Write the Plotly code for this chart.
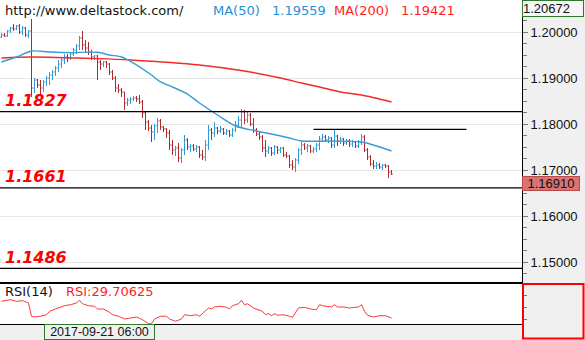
import plotly.graph_objects as go

# ---- EUR/USD 4-hour bars, oldest first ----
bar_open = [1.19892, 1.19935, 1.19914, 1.20022, 1.20087, 1.20065, 1.20131, 1.20001, 1.20087, 1.19935,
            1.20022, 1.18783, 1.18957, 1.18848, 1.18783, 1.18914, 1.19000, 1.19065, 1.19131, 1.19217,
            1.19304, 1.19391, 1.19457, 1.19435, 1.19522, 1.19609, 1.19696, 1.19870, 1.19717, 1.19652,
            1.19566, 1.19457, 1.19479, 1.19348, 1.19304, 1.19348, 1.19304, 1.19131, 1.19000, 1.18783,
            1.18739, 1.18696, 1.18457, 1.18522, 1.18543, 1.18565, 1.18543, 1.18479, 1.18240, 1.18044,
            1.17913, 1.17827, 1.17957, 1.18065, 1.17935, 1.17892, 1.17805, 1.17544, 1.17435, 1.17478,
            1.17261, 1.17435, 1.17652, 1.17500, 1.17522, 1.17457, 1.17500, 1.17326, 1.17283, 1.17544,
            1.17870, 1.17805, 1.17913, 1.17848, 1.17892, 1.17805, 1.17848, 1.17761, 1.17870, 1.17978,
            1.18087, 1.18261, 1.18087, 1.18196, 1.18000, 1.17870, 1.17783, 1.17718, 1.17478, 1.17413,
            1.17478, 1.17370, 1.17500, 1.17435, 1.17478, 1.17326, 1.17305, 1.17109, 1.17065, 1.17217,
            1.17435, 1.17544, 1.17478, 1.17522, 1.17413, 1.17457, 1.17544, 1.17674, 1.17718, 1.17652,
            1.17696, 1.17544, 1.17739, 1.17630, 1.17674, 1.17587, 1.17630, 1.17565, 1.17609, 1.17522,
            1.17609, 1.17718, 1.17435, 1.17283, 1.17130, 1.17087, 1.17109, 1.17065, 1.17109, 1.17087,
            1.16957]
bar_high = [1.19979, 1.19979, 1.20044, 1.20109, 1.20174, 1.20152, 1.20174, 1.20131, 1.20109, 1.20044,
            1.20283, 1.19000, 1.18978, 1.18957, 1.18957, 1.19044, 1.19131, 1.19174, 1.19261, 1.19391,
            1.19435, 1.19522, 1.19522, 1.19566, 1.19652, 1.19739, 1.19914, 1.20022, 1.19826, 1.19783,
            1.19609, 1.19500, 1.19500, 1.19391, 1.19369, 1.19369, 1.19326, 1.19174, 1.19044, 1.18870,
            1.18783, 1.18696, 1.18565, 1.18587, 1.18609, 1.18609, 1.18630, 1.18522, 1.18261, 1.18087,
            1.17978, 1.18000, 1.18131, 1.18109, 1.17957, 1.17913, 1.17870, 1.17652, 1.17522, 1.17587,
            1.17478, 1.17761, 1.17696, 1.17565, 1.17565, 1.17544, 1.17522, 1.17435, 1.17652, 1.17978,
            1.17913, 1.18044, 1.17935, 1.17957, 1.17913, 1.17892, 1.17870, 1.17913, 1.18065, 1.18174,
            1.18327, 1.18305, 1.18261, 1.18240, 1.18131, 1.17913, 1.17827, 1.17761, 1.17652, 1.17522,
            1.17500, 1.17544, 1.17522, 1.17500, 1.17500, 1.17392, 1.17326, 1.17217, 1.17261, 1.17478,
            1.17609, 1.17587, 1.17565, 1.17544, 1.17500, 1.17587, 1.17739, 1.17783, 1.17761, 1.17739,
            1.17718, 1.17892, 1.17761, 1.17718, 1.17696, 1.17674, 1.17674, 1.17652, 1.17630, 1.17652,
            1.17783, 1.17761, 1.17478, 1.17326, 1.17217, 1.17174, 1.17152, 1.17130, 1.17130, 1.17109,
            1.17000]
bar_low = [1.19870, 1.19892, 1.19892, 1.19979, 1.20022, 1.20044, 1.19957, 1.19935, 1.19892, 1.19870,
           1.18587, 1.18674, 1.18783, 1.18630, 1.18696, 1.18827, 1.18848, 1.18957, 1.19044, 1.19131,
           1.19217, 1.19304, 1.19348, 1.19391, 1.19479, 1.19522, 1.19609, 1.19609, 1.19566, 1.19500,
           1.19391, 1.19391, 1.18957, 1.19174, 1.19239, 1.19217, 1.19065, 1.18957, 1.18696, 1.18674,
           1.18587, 1.18305, 1.18392, 1.18435, 1.18500, 1.18479, 1.18435, 1.18131, 1.17870, 1.17848,
           1.17609, 1.17652, 1.17805, 1.17870, 1.17827, 1.17696, 1.17435, 1.17326, 1.17305, 1.17174,
           1.17152, 1.17326, 1.17435, 1.17392, 1.17413, 1.17392, 1.17261, 1.17217, 1.17196, 1.17435,
           1.17652, 1.17718, 1.17783, 1.17805, 1.17761, 1.17761, 1.17718, 1.17718, 1.17827, 1.17913,
           1.17935, 1.18000, 1.18022, 1.17957, 1.17805, 1.17739, 1.17652, 1.17392, 1.17283, 1.17348,
           1.17305, 1.17326, 1.17348, 1.17370, 1.17283, 1.17261, 1.17044, 1.17000, 1.16957, 1.17130,
           1.17326, 1.17435, 1.17392, 1.17370, 1.17370, 1.17392, 1.17435, 1.17609, 1.17609, 1.17587,
           1.17478, 1.17478, 1.17522, 1.17565, 1.17522, 1.17544, 1.17500, 1.17500, 1.17478, 1.17478,
           1.17544, 1.17392, 1.17217, 1.17087, 1.17022, 1.17022, 1.17022, 1.17000, 1.17044, 1.16826,
           1.16892]
bar_close = [1.19935, 1.19914, 1.20022, 1.20087, 1.20065, 1.20131, 1.20001, 1.20087, 1.19935, 1.20022,
             1.18783, 1.18957, 1.18848, 1.18783, 1.18914, 1.19000, 1.19065, 1.19131, 1.19217, 1.19304,
             1.19391, 1.19457, 1.19435, 1.19522, 1.19609, 1.19696, 1.19870, 1.19717, 1.19652, 1.19566,
             1.19457, 1.19479, 1.19348, 1.19304, 1.19348, 1.19304, 1.19131, 1.19000, 1.18783, 1.18739,
             1.18696, 1.18457, 1.18522, 1.18543, 1.18565, 1.18543, 1.18479, 1.18240, 1.18044, 1.17913,
             1.17827, 1.17957, 1.18065, 1.17935, 1.17892, 1.17805, 1.17544, 1.17435, 1.17478, 1.17261,
             1.17435, 1.17652, 1.17500, 1.17522, 1.17457, 1.17500, 1.17326, 1.17283, 1.17544, 1.17870,
             1.17805, 1.17913, 1.17848, 1.17892, 1.17805, 1.17848, 1.17761, 1.17870, 1.17978, 1.18087,
             1.18261, 1.18087, 1.18196, 1.18000, 1.17870, 1.17783, 1.17718, 1.17478, 1.17413, 1.17478,
             1.17370, 1.17500, 1.17435, 1.17478, 1.17326, 1.17305, 1.17109, 1.17065, 1.17217, 1.17435,
             1.17544, 1.17478, 1.17522, 1.17413, 1.17457, 1.17544, 1.17674, 1.17718, 1.17652, 1.17696,
             1.17544, 1.17739, 1.17630, 1.17674, 1.17587, 1.17630, 1.17565, 1.17609, 1.17522, 1.17609,
             1.17718, 1.17435, 1.17283, 1.17130, 1.17087, 1.17109, 1.17065, 1.17109, 1.17087, 1.16957,
             1.16910]
bar_idx = list(range(len(bar_close)))

# ---- moving averages (bar index, value) ----
ma50_idx = [0, 5, 10, 16, 23, 32, 36, 40, 44, 50, 53, 57, 62, 66, 72, 78, 85, 90, 96, 100, 110, 120, 125, 130]
ma50_val = [1.19348, 1.19457, 1.19587, 1.19566, 1.19552, 1.19559, 1.19500, 1.19457, 1.19326, 1.19065,
            1.18914, 1.18805, 1.18652, 1.18457, 1.18196, 1.17957, 1.17848, 1.17783, 1.17696, 1.17630,
            1.17630, 1.17609, 1.17522, 1.17413]
ma200_idx = [0, 10, 32, 43, 66, 81, 93, 100, 106, 113, 120, 130]
ma200_val = [1.19435, 1.19457, 1.19421, 1.19391, 1.19283, 1.19152, 1.19000, 1.18891, 1.18805, 1.18696,
             1.18630, 1.18479]

# ---- RSI(14) ----
rsi_idx = [0, 3, 5, 7, 9, 10, 11, 13, 15, 16, 18, 20, 21, 23, 25, 26, 27, 29, 31, 32,
           34, 36, 37, 39, 41, 43, 45, 47, 49, 50, 51, 53, 55, 56, 58, 60, 61, 63, 65, 66,
           68, 69, 70, 71, 73, 75, 76, 77, 79, 80, 81, 82, 84, 87, 88, 89, 90, 91, 92, 94,
           96, 97, 99, 101, 103, 105, 106, 107, 110, 111, 112, 114, 116, 119, 120, 121, 122, 124, 126, 128,
           130]
rsi_val = [56.7, 59.3, 56.7, 57.7, 54.0, 32.5, 31.3, 32.5, 35.0, 40.5, 44.3, 47.5, 49.6, 51.2, 54.0, 58.3, 52.8, 49.6, 48.6, 44.3,
           44.3, 38.9, 35.0, 32.5, 28.1, 29.7, 31.3, 27.0, 20.5, 20.5, 28.1, 32.5, 32.5, 28.1, 24.4, 28.1, 35.0, 33.4, 35.0, 32.5,
           40.5, 45.9, 44.3, 47.5, 48.6, 47.0, 44.3, 49.6, 52.8, 58.3, 51.2, 52.8, 45.9, 40.5, 35.0, 36.7, 33.4, 36.7, 34.1, 35.0,
           32.5, 30.8, 45.9, 47.0, 44.3, 43.1, 51.2, 49.6, 47.5, 51.2, 47.5, 47.5, 45.9, 47.5, 51.2, 40.5, 34.1, 31.3, 33.4, 33.4,
           29.70625]

# ---- support / resistance levels ----
level_values = [1.1827, 1.1661, 1.1486]
level_labels = ["1.1827", "1.1661", "1.1486"]
resist_value = 1.17885
resist_from, resist_to = 104, 155

# ---- crosshair readout ----
cross_idx = 32
cross_time = "2017-09-21 06:00"
axis_top_value = 1.20672

W, H = 585, 340
PLOT_R = 522          # right edge of the chart panes (px)
MAIN_B = 283          # bottom of the price pane (px)
RSI_B = 324           # bottom of the RSI pane (px)

BLUE = "#2f9ad8"
BAR_RED = "#b0282c"
MA_RED = "#f42a2a"
TXT_RED = "#ff1e1e"
GREEN = "#2d7a2d"


def px_x(px):
    return px / W


def px_y(py):
    return 1 - py / H


ma50_at_cross = ma50_val[ma50_idx.index(cross_idx)]
ma200_at_cross = ma200_val[ma200_idx.index(cross_idx)]

fig = go.Figure()

fig.add_trace(go.Ohlc(
    x=bar_idx, open=bar_open, high=bar_high, low=bar_low, close=bar_close,
    increasing=dict(line=dict(color=BLUE, width=1)),
    decreasing=dict(line=dict(color=BAR_RED, width=1)),
    tickwidth=0.4, xaxis="x", yaxis="y", hoverinfo="skip",
))
fig.add_trace(go.Scatter(
    x=ma200_idx, y=ma200_val, mode="lines", xaxis="x", yaxis="y",
    line=dict(color=MA_RED, width=1.4, shape="spline", smoothing=0.8), hoverinfo="skip",
))
fig.add_trace(go.Scatter(
    x=ma50_idx, y=ma50_val, mode="lines", xaxis="x", yaxis="y",
    line=dict(color="#3c9ad6", width=1.4, shape="spline", smoothing=0.8), hoverinfo="skip",
))
fig.add_trace(go.Scatter(
    x=rsi_idx, y=rsi_val, mode="lines", xaxis="x2", yaxis="y2",
    line=dict(color="#ff3636", width=1), hoverinfo="skip",
))

# 3 px per bar; half-bar offset keeps the bar stems on pixel centres
x_range = [-0.5, 173.5]
frame = dict(showline=True, linecolor="black", linewidth=1, mirror=True, zeroline=False)

shapes = []
for v in level_values:
    shapes.append(dict(type="line", xref="x domain", x0=0, x1=1, yref="y", y0=v, y1=v,
                       line=dict(color="black", width=1.2)))
shapes.append(dict(type="line", xref="x", x0=resist_from, x1=resist_to, yref="y",
                   y0=resist_value, y1=resist_value, line=dict(color="black", width=1.2)))
# indicator-scale frame on the right of the RSI pane
shapes.append(dict(type="rect", xref="paper", yref="paper",
                   x0=px_x(PLOT_R + 1), x1=px_x(W - 1.5), y0=px_y(H - 1.5), y1=px_y(MAIN_B + 1),
                   line=dict(color="#ff0000", width=2), fillcolor="rgba(0,0,0,0)"))

ann = []
head_font = dict(family="DejaVu Sans", size=13)
head_y = px_y(11)
ann.append(dict(text="http://www.deltastock.com/", x=px_x(3), y=head_y,
                font=dict(head_font, color="#111111")))
ann.append(dict(text="MA(50)", x=px_x(211), y=head_y, font=dict(head_font, color="#1f8fd6")))
ann.append(dict(text=f"{ma50_at_cross:.5f}", x=px_x(270), y=head_y, font=dict(head_font, color="#1f8fd6")))
ann.append(dict(text="MA(200)", x=px_x(332), y=head_y, font=dict(head_font, color=TXT_RED)))
ann.append(dict(text=f"{ma200_at_cross:.5f}", x=px_x(399), y=head_y, font=dict(head_font, color=TXT_RED)))

rsi_y = px_y(291)
ann.append(dict(text="RSI(14)", x=px_x(3), y=rsi_y, font=dict(head_font, color="#111111")))
ann.append(dict(text=f"RSI:{rsi_val[-1]:.5f}", x=px_x(64), y=rsi_y, font=dict(head_font, color=TXT_RED)))

for a in ann:
    a.update(xref="paper", yref="paper", xanchor="left", yanchor="middle", showarrow=False)

for v, lab in zip(level_values, level_labels):
    ann.append(dict(text=f"<b><i>{lab}</i></b>", xref="paper", x=px_x(3), yref="y", y=v,
                    xanchor="left", yanchor="middle", yshift=11, showarrow=False,
                    font=dict(family="DejaVu Sans", size=16, color="#ff0000")))

scale_font = dict(family="Liberation Sans", size=13, color="#111111")
ann.append(dict(text=f"{axis_top_value:.5f}", xref="paper", x=px_x(PLOT_R), yref="paper", y=1,
                xanchor="left", yanchor="top", showarrow=False, align="left",
                width=60, height=15, borderpad=0, borderwidth=1, bordercolor=GREEN,
                bgcolor="#f6f6f6", font=scale_font))
ann.append(dict(text=f"{bar_close[-1]:.5f}", xref="paper", x=px_x(PLOT_R), yref="y", y=bar_close[-1],
                xanchor="left", yanchor="top", yshift=-2, showarrow=False, align="center",
                width=56, height=13, borderpad=0, borderwidth=1, bordercolor="#b94a4a",
                bgcolor="#d87474", font=scale_font))
ann.append(dict(text=cross_time, xref="x", x=cross_idx + 0.5, yref="paper", y=px_y((RSI_B + H) / 2),
                xanchor="center", yanchor="middle", showarrow=False,
                width=109, height=14, borderpad=0, borderwidth=1, bordercolor=GREEN,
                bgcolor="#f0f0f0", font=dict(family="Liberation Sans", size=12.5, color="#111111")))

fig.update_layout(
    width=W, height=H, margin=dict(l=0, r=0, t=0, b=0, pad=0),
    paper_bgcolor="#f0f0f0", plot_bgcolor="white", showlegend=False,
    xaxis=dict(domain=[0, px_x(PLOT_R)], range=x_range, anchor="y",
               showticklabels=False, ticks="", showgrid=False,
               rangeslider=dict(visible=False), **frame),
    yaxis=dict(domain=[px_y(MAIN_B), 1], range=[1.14544, 1.20696], anchor="x", side="right",
               tick0=1.15, dtick=0.01, tickformat=".5f", ticks="outside", ticklen=5,
               tickcolor="#7a7a7a", tickfont=scale_font, showgrid=True, gridcolor="#e7e7e7",
               minor=dict(tick0=1.15, dtick=0.0025, ticks="outside", ticklen=4,
                          tickcolor="#7a7a7a", showgrid=False),
               **frame),
    xaxis2=dict(domain=[0, px_x(PLOT_R)], range=x_range, anchor="y2",
                showticklabels=False, ticks="", showgrid=False, **frame),
    yaxis2=dict(domain=[px_y(RSI_B), px_y(MAIN_B)], range=[20, 86.3], anchor="x2", side="right",
                showticklabels=False, ticks="outside", ticklen=4, tickcolor="#7a7a7a",
                tickvals=[26.5, 45.9, 65.3], showgrid=False, **frame),
    shapes=shapes, annotations=ann,
)

fig.write_html("out.html")
